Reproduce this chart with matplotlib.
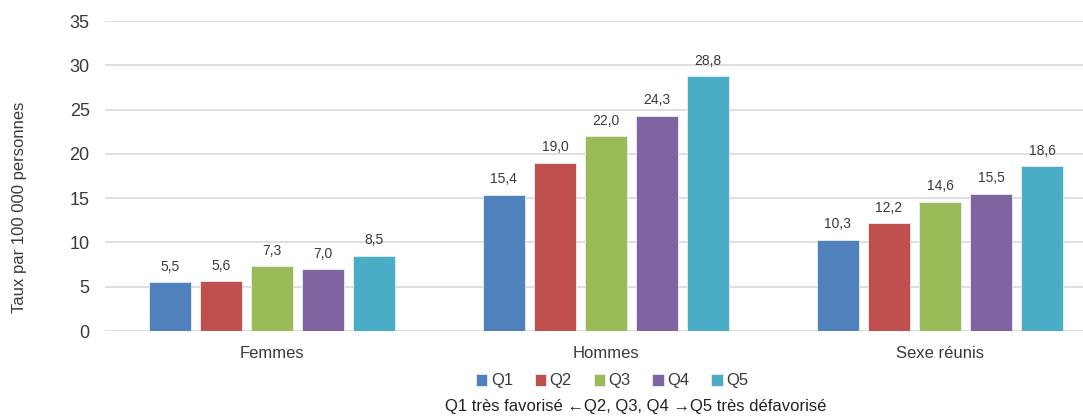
import matplotlib
matplotlib.use("Agg")
import matplotlib.pyplot as plt
import numpy as np

categories = ["Femmes", "Hommes", "Sexe réunis"]
series = ["Q1", "Q2", "Q3", "Q4", "Q5"]
values = {
    "Q1": [5.5, 15.4, 10.3],
    "Q2": [5.6, 19.0, 12.2],
    "Q3": [7.3, 22.0, 14.6],
    "Q4": [7.0, 24.3, 15.5],
    "Q5": [8.5, 28.8, 18.6],
}
colors = ["#4F81BD", "#C0504D", "#9BBB59", "#8064A2", "#4BACC6"]
y_ticks = [0, 5, 10, 15, 20, 25, 30, 35]

plt.rcParams["font.family"] = ["Liberation Sans", "DejaVu Sans"]
text_color = "#3a3a3a"

fig = plt.figure(figsize=(10.83, 4.16), dpi=100)
ax = fig.add_axes([105 / 1083, 85 / 416, 1002 / 1083, 310 / 416])

x = np.arange(len(categories))
pitch = 0.153
width = 0.124
for i, (name, col) in enumerate(zip(series, colors)):
    pos = x + (i - 2) * pitch
    bars = ax.bar(pos, values[name], width=width, color=col,
                  edgecolor="#e8eef4", linewidth=0.6, label=name, zorder=3)
    for b, v in zip(bars, values[name]):
        ax.annotate(f"{v:.1f}".replace(".", ","),
                    (b.get_x() + b.get_width() / 2, v),
                    xytext=(0, 6), textcoords="offset points",
                    ha="center", va="bottom", fontsize=10, color=text_color)

ax.set_xlim(-0.5, 2.5)
ax.set_ylim(0, 35)
ax.set_yticks(y_ticks)
ax.set_yticklabels([str(t) for t in y_ticks], fontsize=13, color=text_color)
ax.set_xticks(x)
ax.set_xticklabels(categories, fontsize=12, color=text_color)
ax.tick_params(axis="both", length=0)
ax.tick_params(axis="y", pad=11)
ax.tick_params(axis="x", pad=11)
ax.grid(axis="y", color="#d9d9d9", linewidth=1.2, zorder=0)
for s in ax.spines.values():
    s.set_visible(False)
ax.set_ylabel("Taux par 100 000 personnes", fontsize=12, color=text_color,
              va="center")
ax.yaxis.set_label_coords(-0.085, 0.40)

fig.legend(loc="center", bbox_to_anchor=(612 / 1083, 1 - 381 / 416), ncol=5,
           frameon=False, fontsize=12, handlelength=0.7, handleheight=0.7,
           handletextpad=0.2, columnspacing=1.3, labelcolor=text_color)
fig.text(636 / 1083, 1 - 407 / 416,
         "Q1 très favorisé \u2190Q2, Q3, Q4 \u2192Q5 très défavorisé",
         ha="center", va="center", fontsize=12, color="#222222")

fig.savefig("out.png", dpi=100)
